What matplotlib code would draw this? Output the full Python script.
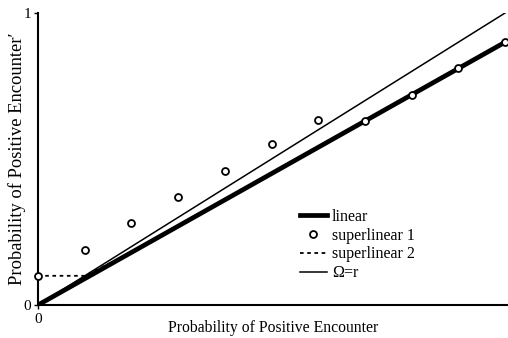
import numpy as np
import matplotlib.pyplot as plt

plt.rcParams['font.family'] = ['Liberation Serif', 'DejaVu Serif']

# Data
x = [0.0, 0.1, 0.2, 0.3, 0.4, 0.5, 0.6, 0.7, 0.8, 0.9, 1.0]
linear = [0.0, 0.09, 0.18, 0.27, 0.36, 0.45, 0.54, 0.63, 0.72, 0.81, 0.90]
superlinear1 = [0.10, 0.19, 0.28, 0.37, 0.46, 0.55, 0.635, 0.63, 0.72, 0.81, 0.90]
superlinear2 = [0.10, 0.10, 0.18, 0.27, 0.36, 0.45, 0.54, 0.63, 0.72, 0.81, 0.90]
omega = [0.0, 1.0]
omega_x = [0.0, 1.0]

fig = plt.figure(figsize=(5.08, 3.38), dpi=100)
ax = fig.add_axes([0.0748, 0.0976, 0.925, 0.864])

ax.plot(x, superlinear2, color='black', linestyle=(0, (2, 2)), linewidth=1.3,
        label='superlinear 2', zorder=2)
ax.plot(x, linear, color='black', linewidth=3.4, label='linear', zorder=3)
ax.plot(omega_x, omega, color='black', linewidth=1.1, label='Ω=r', zorder=3)
ax.plot(x, superlinear1, linestyle='none', marker='o', markersize=5,
        markerfacecolor='white', markeredgecolor='black', markeredgewidth=1.3,
        label='superlinear 1', zorder=4, clip_on=False)

ax.set_xlim(0, 1.006)
ax.set_ylim(0, 1)
ax.set_xticks([0])
ax.set_yticks([0, 1])
ax.set_xticklabels(['0'])
ax.set_yticklabels(['0', '1'])
ax.tick_params(axis='both', labelsize=11, length=3, width=1, direction='out', pad=2)
ax.tick_params(axis='x', pad=3)
for s in ['top', 'right']:
    ax.spines[s].set_visible(False)
for s in ['left', 'bottom']:
    ax.spines[s].set_linewidth(1.5)

ax.set_xlabel('Probability of Positive Encounter', fontsize=11.3)
ax.xaxis.set_label_coords(0.5, -0.05)
ax.set_ylabel('Probability of Positive Encounter\u2032', fontsize=13.3, labelpad=-2)

h, l = ax.get_legend_handles_labels()
order = ['linear', 'superlinear 1', 'superlinear 2', 'Ω=r']
hs = [h[l.index(o)] for o in order]
ax.legend(hs, order, loc='upper left', bbox_to_anchor=(0.54, 0.357), frameon=False,
          fontsize=11.5, handlelength=1.7, handletextpad=0.3, labelspacing=0.18,
          borderpad=0)

plt.savefig('out.png', dpi=100)
